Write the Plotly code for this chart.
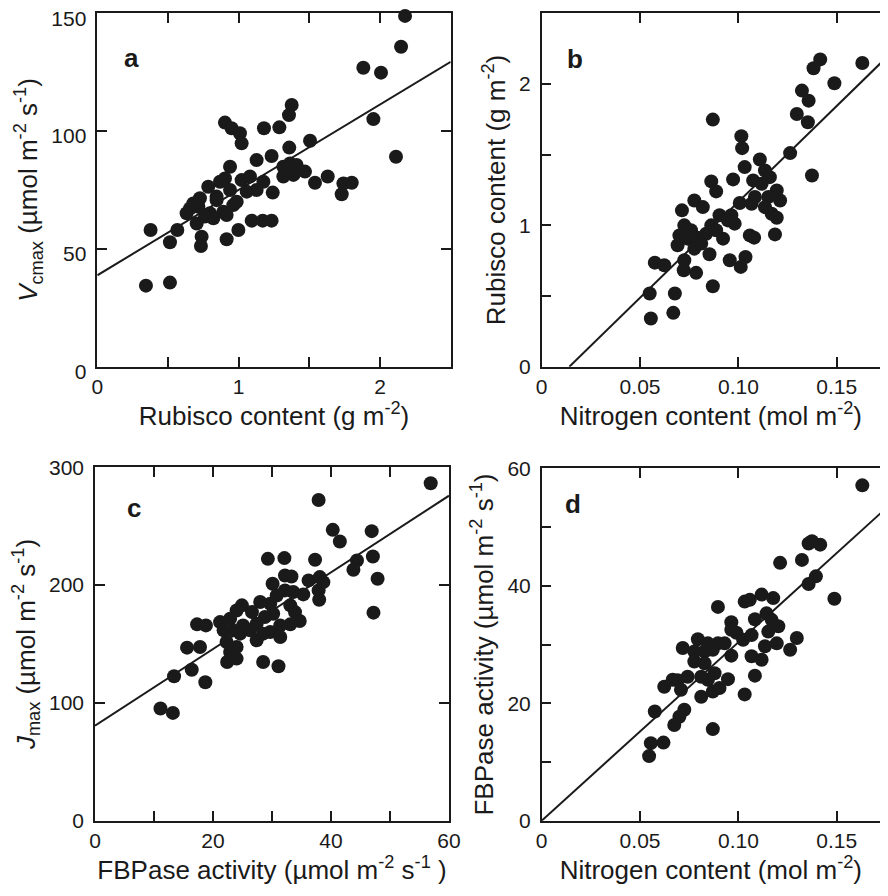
import plotly.graph_objects as go

# ---------------- data ----------------
# Panel a: Rubisco content (g m-2) vs Vcmax
a_x = [2.177, 2.149, 1.882, 2.007, 1.953, 2.113, 1.375, 1.356, 0.903, 0.950, 1.009, 1.021,
       1.179, 1.288, 1.358, 1.505, 1.233, 1.127, 0.939, 0.903, 1.021, 1.080, 1.175, 1.127,
       1.057, 1.316, 1.363, 1.410, 1.469, 1.316, 1.387, 1.540, 1.630, 1.741, 1.800, 1.729,
       1.241, 0.785, 0.868, 0.726, 0.844, 0.656, 0.715, 0.797, 0.892, 0.962, 0.844, 0.939,
       0.762, 0.703, 0.821, 0.915, 0.986, 1.092, 1.170, 1.233, 0.998, 0.915, 0.738, 0.733,
       0.566, 0.514, 0.377, 0.344, 0.514, 0.632, 0.679]
a_y = [148.9, 135.8, 126.9, 124.8, 105.1, 89.1, 111.1, 106.8, 103.6, 101.2, 99.1, 94.8,
       101.2, 101.6, 93.0, 95.9, 89.4, 87.7, 84.9, 79.9, 79.2, 80.7, 78.5, 75.0,
       74.3, 84.9, 86.3, 85.6, 82.8, 80.7, 81.4, 78.1, 80.7, 77.8, 78.1, 73.2,
       73.9, 76.4, 78.5, 71.5, 72.2, 67.2, 67.9, 65.1, 65.8, 68.6, 70.7, 75.0,
       63.7, 60.8, 63.0, 64.4, 70.0, 62.0, 62.0, 62.0, 58.0, 54.1, 55.2, 51.2,
       58.0, 52.8, 58.0, 34.4, 35.7, 65.1, 69.3]
a_fit_x = [0.0, 2.5]
a_fit_y = [38.8, 129.4]

# Panel b: Nitrogen content (mol m-2) vs Rubisco content (g m-2)
b_x = [0.1630, 0.1416, 0.1382, 0.1488, 0.1323, 0.1357, 0.1297, 0.1353, 0.1263, 0.1374,
       0.0870, 0.1015, 0.1019, 0.1109, 0.1032, 0.0973, 0.0862, 0.0887, 0.1135, 0.1160,
       0.1075, 0.1118, 0.1195, 0.1212, 0.1152, 0.1084, 0.1067, 0.1007, 0.1135, 0.1169,
       0.1195, 0.1186, 0.0776, 0.0819, 0.0713, 0.0904, 0.0964, 0.0981, 0.0862, 0.0725,
       0.0700, 0.0742, 0.0794, 0.0836, 0.0887, 0.0922, 0.0947, 0.0691, 0.0776, 0.0853,
       0.1058, 0.1080, 0.1036, 0.1012, 0.0956, 0.0725, 0.0722, 0.0785, 0.0575, 0.0623,
       0.0870, 0.0549, 0.0677, 0.0555, 0.0669, 0.0811, 0.0759]
b_y = [2.148, 2.174, 2.111, 2.005, 1.953, 1.882, 1.788, 1.729, 1.511, 1.353,
       1.748, 1.631, 1.546, 1.466, 1.412, 1.325, 1.311, 1.240, 1.388, 1.341,
       1.318, 1.294, 1.247, 1.176, 1.200, 1.200, 1.153, 1.158, 1.129, 1.082,
       1.054, 0.936, 1.176, 1.129, 1.106, 1.071, 1.071, 1.012, 1.000, 1.000,
       0.929, 0.906, 0.913, 0.941, 0.965, 0.906, 1.035, 0.859, 0.835, 0.795,
       0.929, 0.913, 0.776, 0.706, 0.753, 0.753, 0.682, 0.664, 0.736, 0.718,
       0.569, 0.518, 0.518, 0.341, 0.381, 0.871, 0.965]
b_fit_x = [0.01405, 0.18]
b_fit_y = [0.0, 2.252]

# Panel c: FBPase activity vs Jmax
c_x = [56.9, 37.9, 40.3, 41.5, 46.9, 47.1, 47.9, 47.2, 44.4, 43.8, 29.3, 32.1, 37.3,
       32.2, 33.3, 30.1, 36.2, 38.1, 38.7, 37.9, 38.0, 35.3, 33.6, 32.2, 30.8, 29.7,
       28.0, 24.9, 24.0, 33.1, 33.9, 34.7, 33.1, 31.4, 30.2, 28.8, 27.4, 26.3, 29.7,
       31.4, 27.4, 25.1, 22.9, 21.2, 21.8, 23.4, 24.6, 22.3, 24.0, 22.9, 24.0, 22.4,
       17.3, 18.8, 15.6, 17.8, 16.4, 13.4, 18.7, 28.5, 31.1, 11.1, 13.2, 28.5, 26.6]
c_y = [286.4, 272.3, 246.9, 237.0, 245.8, 224.3, 205.4, 176.6, 220.9, 213.0, 222.3, 222.9,
       221.5, 208.2, 207.3, 201.1, 204.0, 206.8, 202.5, 195.5, 187.6, 192.1, 194.1, 195.5,
       191.2, 184.2, 185.6, 182.8, 178.5, 182.8, 177.1, 169.5, 166.7, 165.8, 175.7, 172.9,
       167.2, 161.6, 160.2, 155.9, 153.1, 165.8, 171.5, 168.6, 161.6, 161.6, 158.8, 151.7,
       147.5, 143.2, 137.6, 134.7, 166.7, 165.8, 146.9, 147.5, 128.2, 122.6, 117.5, 134.7,
       131.1, 95.2, 91.5, 158.8, 177.1]
c_fit_x = [0.0, 60.0]
c_fit_y = [80.6, 275.9]

# Panel d: Nitrogen content vs FBPase activity
d_x = [0.1630, 0.1374, 0.1416, 0.1357, 0.1212, 0.1323, 0.1394, 0.1357, 0.1488, 0.0896,
       0.1032, 0.1058, 0.1118, 0.1177, 0.1143, 0.1084, 0.1169, 0.1203, 0.0964, 0.0990,
       0.1024, 0.1067, 0.1152, 0.1195, 0.1135, 0.1297, 0.1263, 0.1067, 0.1118, 0.1084,
       0.1032, 0.0964, 0.0896, 0.0845, 0.0794, 0.0717, 0.0776, 0.0828, 0.0870, 0.0776,
       0.0828, 0.0879, 0.0947, 0.0845, 0.0811, 0.0742, 0.0691, 0.0666, 0.0623, 0.0708,
       0.0870, 0.0811, 0.0904, 0.0725, 0.0700, 0.0674, 0.0575, 0.0870, 0.0619, 0.0555,
       0.0546, 0.0930, 0.0964]
d_y = [57.1, 47.6, 47.0, 47.2, 43.9, 44.4, 41.6, 40.3, 37.8, 36.4,
       37.3, 37.6, 38.5, 37.9, 35.3, 34.3, 34.2, 33.1, 33.8, 32.0,
       30.8, 31.6, 32.2, 30.2, 29.7, 31.1, 29.1, 28.0, 27.4, 24.7,
       21.5, 28.1, 30.2, 30.2, 30.9, 29.4, 28.8, 28.8, 29.1, 27.1,
       26.8, 25.1, 24.1, 24.0, 24.5, 24.5, 23.9, 24.0, 22.8, 22.3,
       22.0, 21.1, 22.6, 18.9, 17.7, 16.3, 18.6, 15.6, 13.3, 13.2,
       11.0, 30.2, 32.5]
d_fit_x = [0.0, 0.18]
d_fit_y = [0.0, 54.7]

# tick labels
a_xticks = [0, 0.5, 1, 1.5, 2, 2.5]
a_xtext = ["0", "", "1", "", "2", ""]
a_yticks = [0, 50, 100, 150]
a_ytext = ["0", "50", "100", "150"]
n_xticks = [0, 0.05, 0.10, 0.15]
n_xtext = ["0", "0.05", "0.10", "0.15"]
b_yticks = [0, 0.5, 1, 1.5, 2, 2.5]
b_ytext = ["0", "", "1", "", "2", ""]
c_xticks = [0, 10, 20, 30, 40, 50, 60]
c_xtext = ["0", "", "20", "", "40", "", "60"]
c_yticks = [0, 100, 200, 300]
c_ytext = ["0", "100", "200", "300"]
d_yticks = [0, 10, 20, 30, 40, 50, 60]
d_ytext = ["0", "", "20", "", "40", "", "60"]

# ---------------- figure ----------------
# page body has an 8px margin, so the figure is sized to fit inside the window
OFF = 8
W, H = 888 - 2 * OFF, 896 - 2 * OFF
FONT = "Liberation Sans, Arial, Helvetica, sans-serif"
INK = "#1a1a1a"
MS = 14

fig = go.Figure()

panels = [
    ("x", "y", a_x, a_y, a_fit_x, a_fit_y),
    ("x2", "y2", b_x, b_y, b_fit_x, b_fit_y),
    ("x3", "y3", c_x, c_y, c_fit_x, c_fit_y),
    ("x4", "y4", d_x, d_y, d_fit_x, d_fit_y),
]
for xa, ya, px, py, fx, fy in panels:
    fig.add_trace(go.Scatter(x=fx, y=fy, xaxis=xa, yaxis=ya, mode="lines",
                             line=dict(color=INK, width=2), showlegend=False,
                             hoverinfo="skip"))
    fig.add_trace(go.Scatter(x=px, y=py, xaxis=xa, yaxis=ya, mode="markers",
                             marker=dict(size=MS, color=INK, line=dict(width=0)),
                             showlegend=False, cliponaxis=False))


def px2x(p):
    return min(1.0, max(0.0, (p - OFF) / W))


def py2y(p):
    return min(1.0, max(0.0, 1 - (p - OFF) / H))


common = dict(showline=True, linecolor=INK, linewidth=1.5, mirror="ticks",
              ticks="inside", ticklen=10, tickwidth=1.5, tickcolor=INK,
              showgrid=False, zeroline=False, tickmode="array", automargin=False,
              ticklabeloverflow="allow",
              tickfont=dict(family=FONT, size=21, color=INK),
              title_font=dict(family=FONT, size=26, color=INK))

sup2 = "<sup>-2</sup>"
sup1 = "<sup>-1</sup>"
n_range = [0, (888 - OFF - 541.7) / 1967.0]

layout_axes = dict(
    xaxis=dict(common, domain=[px2x(97.3), px2x(450.7)], range=[0, 2.5],
               tickvals=a_xticks, ticktext=a_xtext, anchor="y",
               title=dict(text="Rubisco content (g m" + sup2 + ")", standoff=4)),
    yaxis=dict(common, domain=[py2y(366.7), py2y(13.3)], range=[0, 150],
               tickvals=a_yticks, ticktext=a_ytext, anchor="x", ticklabelstandoff=5,
               ticklabelshift=5,
               title=dict(text="<i>V</i><sub>cmax</sub> (µmol m" + sup2 + " s" + sup1 + ")", standoff=6)),
    xaxis2=dict(common, domain=[px2x(541.7), 1.0], range=n_range,
                tickvals=n_xticks, ticktext=n_xtext, anchor="y2",
                title=dict(text="Nitrogen content (mol m" + sup2 + ")", standoff=4)),
    yaxis2=dict(common, domain=[py2y(366.7), py2y(13.3)], range=[0, 2.5], mirror=False,
                tickvals=b_yticks, ticktext=b_ytext, anchor="x2", ticklabelstandoff=5,
                title=dict(text="Rubisco content (g m" + sup2 + ")", standoff=6)),
    xaxis3=dict(common, domain=[px2x(95), px2x(449)], range=[0, 60],
                tickvals=c_xticks, ticktext=c_xtext, anchor="y3",
                title=dict(text="FBPase activity (µmol m" + sup2 + " s" + sup1 + " )", standoff=4)),
    yaxis3=dict(common, domain=[py2y(820.7), py2y(467.3)], range=[0, 300],
                tickvals=c_yticks, ticktext=c_ytext, anchor="x3", ticklabelstandoff=5,
                title=dict(text="<i>J</i><sub>max</sub> (µmol m" + sup2 + " s" + sup1 + ")", standoff=6)),
    xaxis4=dict(common, domain=[px2x(541.7), 1.0], range=n_range,
                tickvals=n_xticks, ticktext=n_xtext, anchor="y4",
                title=dict(text="Nitrogen content (mol m" + sup2 + ")", standoff=4)),
    yaxis4=dict(common, domain=[py2y(820.7), py2y(468.3)], range=[0, 60], mirror=False,
                tickvals=d_yticks, ticktext=d_ytext, anchor="x4", ticklabelstandoff=5,
                title=dict(text="FBPase activity (µmol m" + sup2 + " s" + sup1 + ")", standoff=6)),
)

labels = [("a", "x", "y", 0.096, 0.874), ("b", "x2", "y2", 0.0997, 0.870),
          ("c", "x3", "y3", 0.111, 0.884), ("d", "x4", "y4", 0.092, 0.898)]
annotations = []
for t, xa, ya, fx, fy in labels:
    annotations.append(dict(text="<b>" + t + "</b>", xref=xa + " domain", yref=ya + " domain",
                            x=fx, y=fy, xanchor="center", yanchor="middle", showarrow=False,
                            font=dict(family=FONT, size=26, color=INK)))

fig.update_layout(template="none", width=W, height=H, margin=dict(l=0, r=0, t=0, b=0),
                  paper_bgcolor="white", plot_bgcolor="white",
                  annotations=annotations, **layout_axes)

fig.write_html("out.html")
